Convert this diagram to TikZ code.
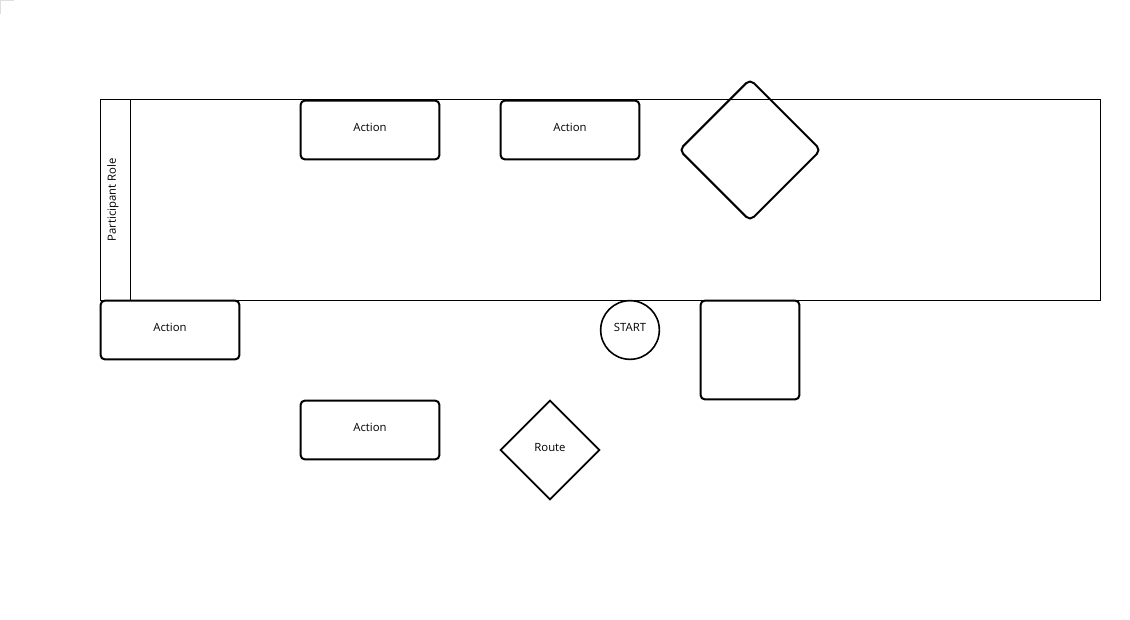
\documentclass[tikz,border=0pt]{standalone}
\usepackage{fontspec}
\setmainfont{Open Sans}
\usetikzlibrary{shapes.geometric}
\begin{document}
\begin{tikzpicture}[x=0.75pt,y=-0.75pt,
  every node/.style={font=\fontsize{8.5pt}{10pt}\selectfont, inner sep=0pt, outer sep=0pt},
  label text/.style={text height=6pt, text depth=4pt},
  lane/.style={draw=black, line width=0.75pt},
  task/.style={draw=black, line width=1.5pt, rounded corners=3pt, rectangle, label text,
    minimum width=104pt, minimum height=44pt},
  gate/.style={draw=black, line width=1.5pt, diamond, aspect=1, label text},
  event/.style={draw=black, line width=1.2pt, circle, minimum size=44pt, label text}]
  \useasboundingbox (0,0) rectangle (1130,620);
  \fill[white] (0,0) rectangle (1130,620);
  % faint corner mark
  \draw[gray!25, line width=0.6pt] (0,14) -- (0,0.5) -- (14,0.5);

  % pool with its participant header
  \draw[lane] (100,100) rectangle (1100,300);
  \draw[lane] (130,100) -- (130,300);
  \node[rotate=90] (role) at (113,200) {Participant Role};

  % tasks
  \node[task] (a1) at (370,130) {Action};
  \node[task] (a2) at (570,130) {Action};
  \node[task] (a3) at (170,330) {Action};
  \node[task] (a4) at (370,430) {Action};
  \node[task, minimum width=74pt, minimum height=74pt] (box) at (750,350) {};

  % gateways
  \node[gate, rounded corners=4pt, minimum width=106pt, minimum height=106pt] (g1) at (750,150) {};
  \node[gate, minimum width=74pt, minimum height=74pt, line width=1.3pt] (route) at (550,450) {Route};

  % start event
  \node[event] (start) at (630,330) {START};
\end{tikzpicture}
\end{document}
